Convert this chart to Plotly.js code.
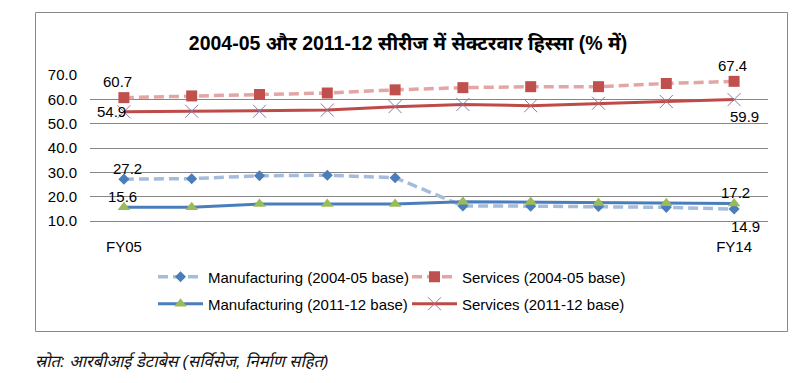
<!DOCTYPE html>
<html>
<head>
<meta charset="utf-8">
<script src="https://cdn.plot.ly/plotly-3.0.1.min.js"></script>
<style>
  html, body { margin: 0; padding: 0; background: #fff; }
  #chart { width: 810px; height: 383px; }
</style>
</head>
<body>
<div id="chart"></div>
<script>
// ---- data ----
var categories = ['FY05','FY06','FY07','FY08','FY09','FY10','FY11','FY12','FY13','FY14'];
var tickLabels = ['FY05','','','','','','','','','FY14'];
var manufacturing0405 = [27.2, 27.4, 28.6, 28.8, 27.8, 16.2, 16.1, 16.0, 15.6, 14.9];
var services0405      = [60.7, 61.4, 62.0, 62.6, 63.9, 64.8, 65.2, 65.2, 66.5, 67.4];
var manufacturing1112 = [15.6, 15.6, 17.0, 17.0, 17.0, 17.9, 17.8, 17.4, 17.3, 17.2];
var services1112      = [54.9, 55.1, 55.1, 55.6, 57.0, 57.9, 57.4, 58.4, 59.1, 59.9];
var seriesNames = ['Manufacturing (2004-05 base)', 'Services (2004-05 base)',
                   'Manufacturing (2011-12 base)', 'Services (2011-12 base)'];
var titleText = '2004-05 और 2011-12 सीरीज में सेक्टरवार हिस्सा (% में)';
var sourceText = 'स्रोत: आरबीआई डेटाबेस (सर्विसेज, निर्माण सहित)';
var yTickVals = [10, 20, 30, 40, 50, 60, 70];

// ---- geometry / style ----
var W = 810, H = 383;
var M = {l: 90, r: 42, t: 75, b: 162};
var PW = W - M.l - M.r, PH = H - M.t - M.b;
function px2paperX(px) { return (px - M.l) / PW; }
function px2paperY(py) { return (H - M.b - py) / PH; }
var FONT = 'Liberation Sans, Arial, "Noto Sans Devanagari", "Noto Sans", sans-serif';

var traces = [
  {
    x: categories, y: manufacturing0405, name: seriesNames[0], type: 'scatter', mode: 'lines+markers',
    line: {color: '#A5BCDC', width: 3.5, dash: '10px,5px'},
    marker: {symbol: 'diamond', size: 8.5, color: '#4A7EBB'},
    legend: 'legend'
  },
  {
    x: categories, y: services0405, name: seriesNames[1], type: 'scatter', mode: 'lines+markers',
    line: {color: '#E3A6A5', width: 3.5, dash: '10px,5px'},
    marker: {symbol: 'square', size: 11, color: '#C0504D'},
    legend: 'legend'
  },
  {
    x: categories, y: manufacturing1112, name: seriesNames[2], type: 'scatter', mode: 'lines+markers',
    line: {color: '#4A7EBB', width: 3},
    marker: {symbol: 'triangle-up', size: 11, color: '#9BBB59'},
    legend: 'legend2'
  },
  {
    x: categories, y: services1112, name: seriesNames[3], type: 'scatter', mode: 'lines+markers',
    line: {color: '#BE4B48', width: 3},
    marker: {symbol: 'x-thin-open', size: 13, color: '#8B7BA8', line: {color: '#8B7BA8', width: 1}},
    legend: 'legend2'
  }
];

// data labels for first & last points: [series, index, dx, dy(up)]
var labelSpec = [
  [services0405, 0, -6, 16], [services0405, 9, -2, 16],
  [services1112, 0, -12, 0], [services1112, 9, 10, -17],
  [manufacturing0405, 0, 4, 11], [manufacturing0405, 9, 11, -17],
  [manufacturing1112, 0, -1, 11], [manufacturing1112, 9, 1, 11]
];
var annotations = labelSpec.map(function (s) {
  return {
    x: categories[s[1]], y: s[0][s[1]], xref: 'x', yref: 'y',
    text: s[0][s[1]].toFixed(1), showarrow: false,
    xshift: s[2], yshift: s[3],
    font: {family: FONT, size: 15, color: '#000'}
  };
});
annotations.push({
  xref: 'paper', yref: 'paper', x: px2paperX(33), y: px2paperY(361),
  xanchor: 'left', yanchor: 'middle', showarrow: false,
  text: '<i>' + sourceText + '</i>',
  font: {family: FONT, size: 16.5, color: '#111'}
});

var layout = {
  width: W, height: H,
  margin: M,
  paper_bgcolor: '#fff', plot_bgcolor: '#fff',
  font: {family: FONT, size: 15, color: '#000'},
  title: {
    text: '<b>' + titleText + '</b>',
    xref: 'container', yref: 'container', x: 408 / W, y: 1 - 43 / H,
    xanchor: 'center', yanchor: 'middle',
    font: {family: FONT, size: 19.5, color: '#000'}
  },
  showlegend: true,
  legend: {
    orientation: 'h', xref: 'container', yref: 'container',
    x: 153 / W, y: 1 - 277 / H, xanchor: 'left', yanchor: 'middle',
    itemwidth: 45, entrywidth: 194, entrywidthmode: 'pixels',
    font: {family: FONT, size: 15, color: '#000'}, bgcolor: 'rgba(0,0,0,0)',
    itemclick: false
  },
  legend2: {
    orientation: 'h', xref: 'container', yref: 'container',
    x: 153 / W, y: 1 - 304 / H, xanchor: 'left', yanchor: 'middle',
    itemwidth: 45, entrywidth: 194, entrywidthmode: 'pixels',
    font: {family: FONT, size: 15, color: '#000'}, bgcolor: 'rgba(0,0,0,0)',
    itemclick: false
  },
  xaxis: {
    type: 'category', range: [-0.5, 9.5],
    tickmode: 'array', tickvals: categories, ticktext: tickLabels,
    showgrid: false, zeroline: false,
    showline: true, linecolor: '#868686', linewidth: 1,
    ticks: '', ticklabelstandoff: 12,
    tickfont: {family: FONT, size: 15, color: '#000'}
  },
  yaxis: {
    range: [10, 70], tickmode: 'array', tickvals: yTickVals, tickformat: '.1f',
    showgrid: true, gridcolor: '#868686', gridwidth: 1,
    zeroline: false, showline: false, ticks: '', ticklabelstandoff: 12,
    tickfont: {family: FONT, size: 15, color: '#000'}
  },
  shapes: [{
    type: 'rect', xref: 'paper', yref: 'paper',
    x0: px2paperX(35.5), x1: px2paperX(787.5), y0: px2paperY(331.5), y1: px2paperY(12.5),
    line: {color: '#898989', width: 1}, fillcolor: 'rgba(0,0,0,0)', layer: 'below'
  }],
  annotations: annotations
};

Plotly.newPlot('chart', traces, layout, {displayModeBar: false, staticPlot: true});
</script>
</body>
</html>
